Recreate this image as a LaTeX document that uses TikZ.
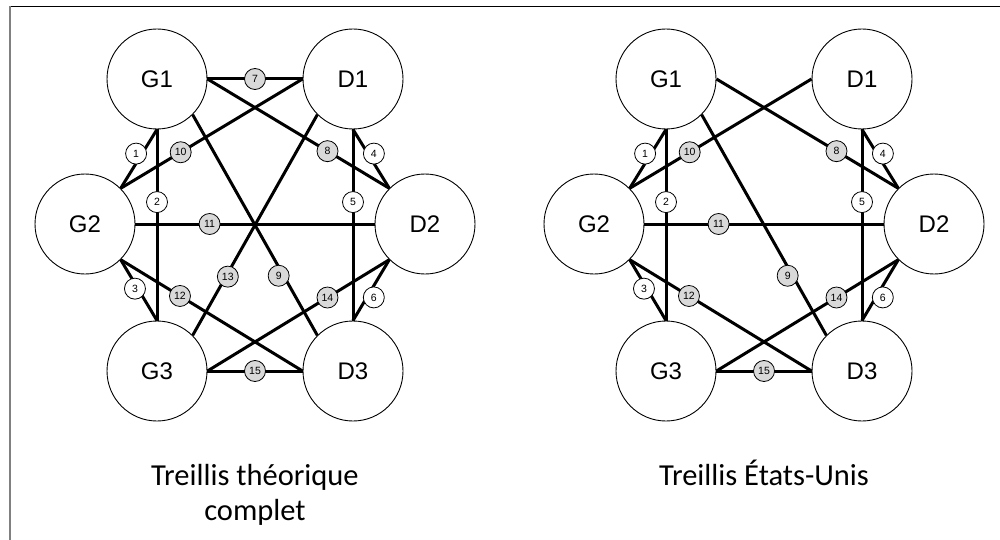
\documentclass[tikz,border=0pt]{standalone}
\usepackage{fontspec}
\setmainfont{Carlito}
\newfontfamily\arialfont{Liberation Sans}
\begin{document}
\begin{tikzpicture}[x=1pt,y=-1pt,
  st/.style={circle, draw, line width=0.9pt, minimum size=100pt, inner sep=0pt, fill=white, font=\arialfont\fontsize{24}{24}\selectfont},
  link/.style={line width=3pt},
  lw/.style={circle, draw, line width=0.8pt, minimum size=21pt, inner sep=0pt, fill=white, font=\arialfont\fontsize{10.5}{10.5}\selectfont},
  lg/.style={lw, fill=gray!30},
  title/.style={font=\fontsize{30.5}{35}\selectfont, align=center, anchor=base}]
\useasboundingbox (0,0) rectangle (1000,540);
% frame
\draw[line width=1.5pt] (9,6.5) -- (1000,6.5);
\draw[gray, line width=2pt] (9.5,6) -- (9.5,540);

% ---------- left diagram ----------
\node[st] (lG1) at (157,79) {G1};
\node[st] (lD1) at (353,79) {D1};
\node[st] (lG2) at (85,224) {G2};
\node[st] (lD2) at (425,224) {D2};
\node[st] (lG3) at (157,371) {G3};
\node[st] (lD3) at (353,371) {D3};

\draw[link] (lG1.east) -- node[lg]{7} (lD1.west);
\draw[link] (lG1.east) -- node[lg,pos=0.66]{8} (lD2.north west);
\draw[link] (lD1.west) -- node[lg,pos=0.67]{10} (lG2.north east);
\draw[link] (lG1.south) -- node[lw,pos=0.41,xshift=-6pt]{1} (lG2.north east);
\draw[link] (lD1.south) -- node[lw,pos=0.41,xshift=6pt]{4} (lD2.north west);
\draw[link] (lG1.south) -- node[lw,pos=0.38]{2} (lG3.north);
\draw[link] (lD1.south) -- node[lw,pos=0.38]{5} (lD3.north);
\draw[link] (lG1.south east) -- node[lg,pos=0.73,xshift=-5pt]{9} (lD3.north west);
\draw[link] (lD1.south west) -- node[lg,pos=0.734,xshift=2pt]{13} (lG3.north east);
\draw[link] (lG2.east) -- node[lg,pos=0.31]{11} (lD2.west);
\draw[link] (lG2.south east) -- node[lw,pos=0.476,xshift=-3pt]{3} (lG3.north);
\draw[link] (lG2.south east) -- node[lg,pos=0.326]{12} (lD3.west);
\draw[link] (lD2.south west) -- node[lw,pos=0.62,xshift=7pt]{6} (lD3.north);
\draw[link] (lD2.south west) -- node[lg,pos=0.34]{14} (lG3.east);
\draw[link] (lG3.east) -- node[lg]{15} (lD3.west);

\node[title] (lt) at (255,520) {Treillis théorique\\complet};

% ---------- right diagram ----------
\node[st] (rG1) at (666,79) {G1};
\node[st] (rD1) at (862,79) {D1};
\node[st] (rG2) at (594,224) {G2};
\node[st] (rD2) at (934,224) {D2};
\node[st] (rG3) at (666,371) {G3};
\node[st] (rD3) at (862,371) {D3};

\draw[link] (rG1.east) -- node[lg,pos=0.66]{8} (rD2.north west);
\draw[link] (rD1.west) -- node[lg,pos=0.67]{10} (rG2.north east);
\draw[link] (rG1.south) -- node[lw,pos=0.41,xshift=-6pt]{1} (rG2.north east);
\draw[link] (rD1.south) -- node[lw,pos=0.41,xshift=6pt]{4} (rD2.north west);
\draw[link] (rG1.south) -- node[lw,pos=0.38]{2} (rG3.north);
\draw[link] (rD1.south) -- node[lw,pos=0.38]{5} (rD3.north);
\draw[link] (rG1.south east) -- node[lg,pos=0.73,xshift=-5pt]{9} (rD3.north west);
\draw[link] (rG2.east) -- node[lg,pos=0.31]{11} (rD2.west);
\draw[link] (rG2.south east) -- node[lw,pos=0.476,xshift=-3pt]{3} (rG3.north);
\draw[link] (rG2.south east) -- node[lg,pos=0.326]{12} (rD3.west);
\draw[link] (rD2.south west) -- node[lw,pos=0.62,xshift=7pt]{6} (rD3.north);
\draw[link] (rD2.south west) -- node[lg,pos=0.34]{14} (rG3.east);
\draw[link] (rG3.east) -- node[lg]{15} (rD3.west);

\node[title] (rt) at (764,485) {Treillis États-Unis};
\end{tikzpicture}
\end{document}
